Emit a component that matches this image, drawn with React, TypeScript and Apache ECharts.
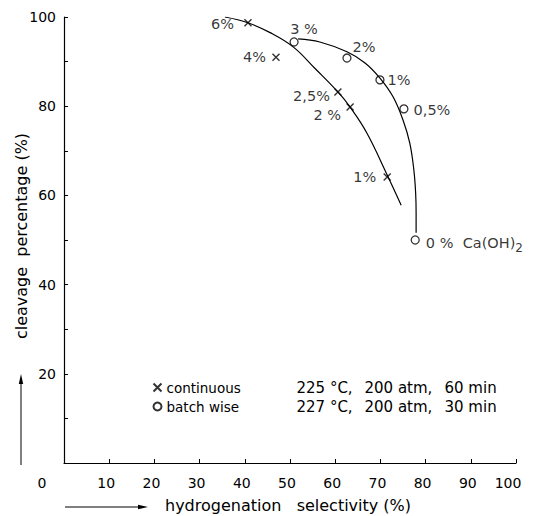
import React, { useEffect, useRef } from "react";
import * as echarts from "echarts";

// Marked points
const continuousX = [40.7, 46.9, 60.6, 63.3, 71.5];
const continuousY = [98.7, 91.0, 83.2, 79.8, 64.1];
const continuousLabels = ["6%", "4%", "2,5%", "2 %", "1%"];

const batchX = [50.9, 62.6, 69.9, 75.2, 77.7];
const batchY = [94.4, 90.8, 85.9, 79.4, 50.0];
const batchLabels = ["3 %", "2%", "1%", "0,5%", "0 %  Ca(OH){s|2}"];

// Hand-drawn curves
const continuousCurveX = [35.6, 40.7, 45.6, 50.7, 55.6, 60.6, 63.3, 67.0, 71.5, 74.6];
const continuousCurveY = [100.0, 98.7, 96.5, 93.3, 88.4, 83.2, 79.8, 74.0, 64.6, 57.8];
const batchCurveX = [51.8, 56.6, 62.6, 66.6, 69.9, 72.8, 75.0, 76.5, 77.4, 77.8, 77.9, 77.9];
const batchCurveY = [95.1, 94.4, 92.2, 89.7, 86.3, 82.1, 76.9, 71.7, 65.7, 60.5, 56.0, 51.6];

const seriesNames = ["continuous", "batch wise"];
const seriesTemps = ["225 °C,", "227 °C,"];
const seriesPressures = ["200 atm,", "200 atm,"];
const seriesTimes = ["60 min", "30 min"];

const xTicks = [0, 10, 20, 30, 40, 50, 60, 70, 80, 90, 100];
const yTickLabels = [20, 40, 60, 80, 100];

const xTitle = "hydrogenation   selectivity (%)";
const yTitle = "cleavage  percentage (%)";

// label placement styles (not data)
const continuousLabelLayout: any[] = [
  { position: "left", distance: 8, offset: [0, 1] },
  { position: "left", distance: 4, offset: [0, 0] },
  { position: "left", distance: 2, offset: [0, 4] },
  { position: "left", distance: 3, offset: [0, 8] },
  { position: "left", distance: 5, offset: [0, 0] },
];
const batchLabelLayout: any[] = [
  { position: "top", distance: 1, offset: [10, 0] },
  { position: "right", distance: 2, offset: [-1, -11] },
  { position: "right", distance: 3, offset: [0, 0] },
  { position: "right", distance: 5, offset: [0, 1] },
  { position: "right", distance: 6, offset: [0, 3] },
];

const FONT = "DejaVu Sans";
const CROSS = "path://M0,0L10,10M10,0L0,10";

export default function App() {
  const ref = useRef<HTMLDivElement>(null);
  useEffect(() => {
    if (!ref.current) return;
    const chart = echarts.init(ref.current, null, { renderer: "svg" });
    const zip = (xs: number[], ys: number[]) => xs.map((x, i) => [x, ys[i]]);
    const option: any = {
      animation: false,
      backgroundColor: "#fff",
      textStyle: { fontFamily: FONT, color: "#000" },
      grid: { left: 64, right: 19, top: 17, bottom: 53 },
      xAxis: {
        type: "value",
        min: 0,
        max: 100,
        interval: 10,
        axisLine: { lineStyle: { color: "#000", width: 1.2 } },
        axisTick: { inside: true, length: 4, lineStyle: { color: "#000" } },
        splitLine: { show: false },
        axisLabel: {
          margin: 13,
          color: "#000",
          fontFamily: FONT,
          fontSize: 14,
          formatter: (v: number) => {
            if (!xTicks.includes(v)) return "";
            if (v === 0) return "{z|0}";
            if (v === 100) return "{h|100}";
            return "{n|" + v + "}";
          },
          rich: {
            z: { fontFamily: FONT, fontSize: 14, color: "#000", padding: [0, 44, 0, 0] },
            n: { fontFamily: FONT, fontSize: 14, color: "#000", padding: [0, 6, 0, 0] },
            h: { fontFamily: FONT, fontSize: 14, color: "#000", padding: [0, 16, 0, 0] },
          },
        },
      },
      yAxis: {
        type: "value",
        min: 0,
        max: 100,
        interval: 10,
        axisLine: { lineStyle: { color: "#000", width: 1.2 } },
        axisTick: { inside: true, length: 4, lineStyle: { color: "#000" } },
        splitLine: { show: false },
        axisLabel: {
          margin: 8,
          color: "#000",
          fontFamily: FONT,
          fontSize: 14,
          formatter: (v: number) => (yTickLabels.includes(v) ? String(v) : ""),
        },
      },
      legend: {
        data: seriesNames,
        orient: "vertical",
        left: 146,
        top: 375,
        itemWidth: 8,
        itemHeight: 8,
        itemGap: 4,
        selectedMode: false,
        formatter: (name: string) => {
          const i = seriesNames.indexOf(name);
          return (
            "{a|" + name + "}{b|" + seriesTemps[i] + "}{c|" + seriesPressures[i] + "}{d|" + seriesTimes[i] + "}"
          );
        },
        textStyle: {
          fontFamily: FONT,
          fontSize: 13.5,
          color: "#000",
          lineHeight: 14,
          rich: {
            a: { fontFamily: FONT, fontSize: 13.5, color: "#000", width: 130 },
            b: { fontFamily: FONT, fontSize: 15, color: "#000", width: 68 },
            c: { fontFamily: FONT, fontSize: 15, color: "#000", width: 80 },
            d: { fontFamily: FONT, fontSize: 15, color: "#000" },
          },
        },
      },
      series: [
        {
          name: "continuous curve",
          type: "line",
          data: zip(continuousCurveX, continuousCurveY),
          smooth: 0.4,
          showSymbol: false,
          silent: true,
          lineStyle: { color: "#000", width: 1.2 },
        },
        {
          name: "batch curve",
          type: "line",
          data: zip(batchCurveX, batchCurveY),
          smooth: 0.4,
          showSymbol: false,
          silent: true,
          lineStyle: { color: "#000", width: 1.2 },
        },
        {
          name: seriesNames[0],
          type: "scatter",
          symbol: CROSS,
          symbolSize: 7,
          itemStyle: { color: "none", borderColor: "#000", borderWidth: 1.4 },
          label: {
            show: true,
            color: "#000",
            fontFamily: FONT,
            fontSize: 14.5,
            formatter: (p: any) => continuousLabels[p.dataIndex],
          },
          data: continuousX.map((x, i) => ({
            value: [x, continuousY[i]],
            label: continuousLabelLayout[i],
          })),
        },
        {
          name: seriesNames[1],
          type: "scatter",
          symbol: "circle",
          symbolSize: 8,
          itemStyle: { color: "#fff", borderColor: "#000", borderWidth: 1.3 },
          label: {
            show: true,
            color: "#000",
            fontFamily: FONT,
            fontSize: 14.5,
            formatter: (p: any) => batchLabels[p.dataIndex],
            rich: {
              s: { fontFamily: FONT, fontSize: 12, color: "#000", padding: [10, 0, 0, 0] },
            },
          },
          data: batchX.map((x, i) => ({
            value: [x, batchY[i]],
            label: batchLabelLayout[i],
          })),
        },
      ],
      graphic: [
        {
          type: "text",
          x: 21,
          y: 236,
          rotation: Math.PI / 2,
          style: {
            text: yTitle,
            fontFamily: FONT,
            fontSize: 16,
            fill: "#000",
            align: "center",
            verticalAlign: "middle",
          },
        },
        {
          type: "line",
          shape: { x1: 21, y1: 465, x2: 21, y2: 382 },
          style: { stroke: "#000", lineWidth: 1 },
        },
        {
          type: "polygon",
          shape: { points: [[21, 374], [18.8, 384], [23.2, 384]] },
          style: { fill: "#000" },
        },
        {
          type: "line",
          shape: { x1: 65, y1: 507, x2: 140, y2: 507 },
          style: { stroke: "#000", lineWidth: 1 },
        },
        {
          type: "polygon",
          shape: { points: [[148, 507], [138, 504.8], [138, 509.2]] },
          style: { fill: "#000" },
        },
        {
          type: "text",
          x: 165,
          y: 505,
          style: {
            text: xTitle,
            fontFamily: FONT,
            fontSize: 16,
            fill: "#000",
            align: "left",
            verticalAlign: "middle",
          },
        },
      ],
    };
    chart.setOption(option);
    return () => chart.dispose();
  }, []);
  return (
    <div
      ref={ref}
      style={{ position: "fixed", left: 0, top: 0, width: 535, height: 516 }}
    />
  );
}
